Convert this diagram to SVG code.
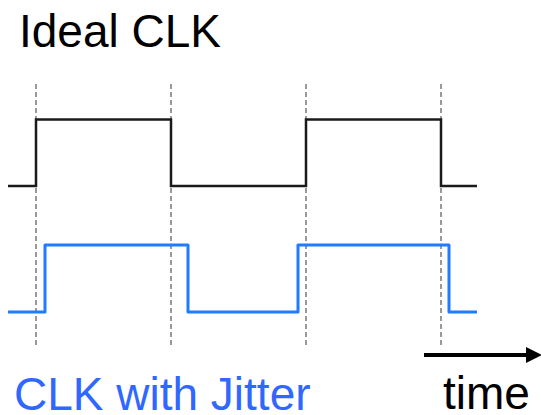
<svg xmlns="http://www.w3.org/2000/svg" width="541" height="415" viewBox="0 0 541 415">
  <style>
    .label { font-family: "Liberation Sans", Arial, sans-serif; font-size: 46px; }
    .grid { stroke: #808080; stroke-width: 1.6; stroke-dasharray: 5 3; fill: none; }
    .ideal { stroke: #1a1a1a; stroke-width: 2.5; fill: none; stroke-linejoin: miter; }
    .jitter { stroke: #1f7bff; stroke-width: 3; fill: none; stroke-linejoin: round; }
  </style>
  <defs>
    <marker id="arrowhead" markerWidth="4" markerHeight="4" refX="0" refY="2" orient="auto" markerUnits="strokeWidth">
      <path d="M0,0 L4,2 L0,4 Z" fill="#000"/>
    </marker>
  </defs>
  <rect width="541" height="415" fill="#fff"/>

  <!-- ideal edge reference lines -->
  <g id="gridlines">
    <line class="grid" x1="36" y1="84" x2="36" y2="345"/>
    <line class="grid" x1="171" y1="84" x2="171" y2="345"/>
    <line class="grid" x1="306" y1="84" x2="306" y2="345"/>
    <line class="grid" x1="441" y1="84" x2="441" y2="345"/>
  </g>

  <g id="ideal-clk">
    <path class="ideal" d="M8,186 H36 V119.5 H171 V186 H306 V119.5 H441 V186 H477"/>
  </g>

  <g id="jitter-clk">
    <path class="jitter" d="M8,312 H45 V245 H188 V312 H298 V245 H449 V312 H477"/>
  </g>

  <g id="connectors">
    <line x1="424" y1="355" x2="526" y2="355" stroke="#000" stroke-width="4" marker-end="url(#arrowhead)"/>
  </g>

  <g id="labels">
    <text class="label" x="19" y="47" fill="#000">Ideal CLK</text>
    <text class="label" x="14" y="410" fill="#3068ff">CLK with Jitter</text>
    <text class="label" x="443" y="409" fill="#000">time</text>
  </g>
</svg>
